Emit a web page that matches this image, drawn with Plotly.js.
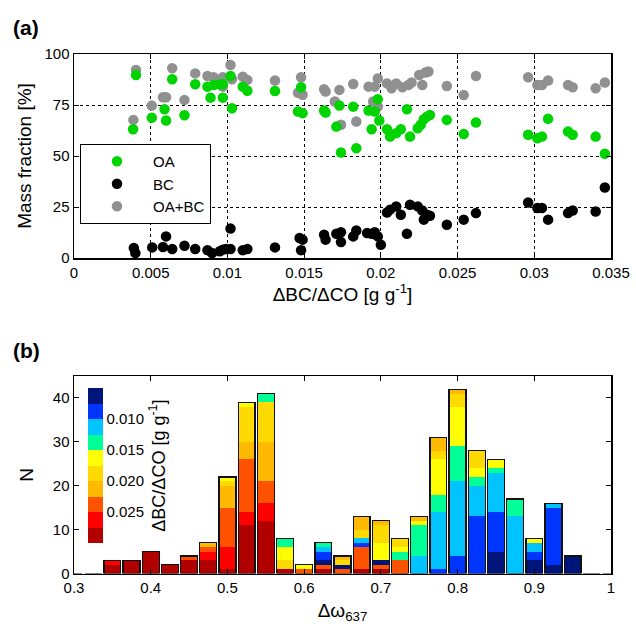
<!DOCTYPE html>
<html>
<head>
<meta charset="utf-8">
<script src="https://cdn.plot.ly/plotly-3.0.1.min.js"></script>
<style>html,body{margin:0;padding:0;background:#fff;}#chart{width:636px;height:624px;}</style>
</head>
<body>
<div id="chart"></div>
<script>
// ---------- Panel (a): mass fractions vs dBC/dCO ----------
const oaX = [0.00404,0.00385,0.00507,0.0059,0.0060,0.0064,0.0072,0.0079,0.0087,0.0089,0.0091,0.0095,0.0097,0.0097,0.0102,0.0103,0.0110,0.0113,0.0131,0.0148,0.0146,0.0149,0.0163,0.0164,0.0171,0.0173,0.0174,0.0182,0.0184,0.0192,0.0194,0.0198,0.0196,0.0199,0.0204,0.0206,0.0210,0.0213,0.0219,0.0217,0.0224,0.0226,0.0228,0.0230,0.0232,0.0243,0.0254,0.0262,0.0296,0.0302,0.0305,0.0309,0.0322,0.0325,0.0340,0.0346];
const oaY = [89.7,63.1,68.8,72.9,67.4,87.6,70.0,85.2,84.0,78.6,84.8,85.2,85.2,78.6,89.2,73.4,84.0,82.0,81.9,83.7,71.8,71.0,72.3,71.3,64.4,74.7,51.7,74.2,53.8,72.3,63.1,77.8,71.8,67.4,63.1,59.5,61.2,63.1,59.5,72.9,63.6,65.3,68.0,69.3,70.1,67.7,60.8,66.4,60.4,58.7,59.5,68.2,62.0,60.4,59.5,51.1];

const bcX = [0.0039,0.0040,0.0051,0.0058,0.0060,0.0064,0.0072,0.0079,0.0087,0.0090,0.0095,0.0097,0.0099,0.0102,0.0102,0.0110,0.0113,0.0131,0.0147,0.0149,0.0148,0.0163,0.0164,0.0171,0.0174,0.0174,0.0182,0.0184,0.0191,0.0194,0.0196,0.0198,0.0200,0.0204,0.0206,0.0210,0.0213,0.0217,0.0219,0.0224,0.0227,0.0228,0.0230,0.0232,0.0243,0.0254,0.0262,0.0296,0.0302,0.0305,0.0309,0.0322,0.0325,0.0340,0.0346];
const bcY = [4.9,2.4,5.2,5.4,10.6,4.4,6.0,4.4,3.8,2.4,3.3,4.1,4.4,14.4,4.4,3.8,4.4,5.2,9.8,9.0,3.8,11.4,9.0,11.9,12.6,7.8,10.6,13.5,12.2,11.9,12.6,10.6,6.5,22.3,23.7,25.3,21.2,11.9,26.1,25.3,23.3,18.8,21.2,20.7,16.3,18.8,22.0,27.2,24.5,24.5,18.8,22.0,23.3,22.8,34.6];

const sumX = [0.00404,0.00387,0.00507,0.0058,0.0060,0.0064,0.0072,0.0079,0.0087,0.0091,0.0097,0.0097,0.0102,0.0103,0.0110,0.0113,0.0131,0.0148,0.0146,0.0149,0.0163,0.0164,0.0173,0.0182,0.0170,0.0174,0.0184,0.0192,0.0196,0.0198,0.0195,0.0198,0.0204,0.0207,0.0210,0.0214,0.0218,0.0220,0.0225,0.0227,0.0229,0.0231,0.0243,0.0254,0.0262,0.0296,0.0302,0.0305,0.0309,0.0322,0.0325,0.0340,0.0346];
const sumY = [92.2,67.7,74.7,78.8,78.8,93.0,77.5,90.5,89.2,88.6,88.6,84.0,94.6,87.6,88.9,87.3,87.0,88.6,81.0,80.0,82.7,81.6,82.4,85.3,76.7,65.3,66.9,84.0,84.0,88.0,76.7,74.2,85.6,83.2,85.6,83.7,84.8,86.0,89.7,84.8,90.9,91.4,84.3,79.9,89.2,88.6,84.8,84.8,87.0,84.8,83.7,83.2,86.0];

const xTicksA = [0,0.005,0.01,0.015,0.02,0.025,0.03,0.035];
const yTicksA = [0,25,50,75,100];

// ---------- Panel (b): stacked histogram of d(omega)637 ----------
const binCenters = [0.300,0.325,0.350,0.375,0.400,0.425,0.450,0.475,0.500,0.525,0.550,0.575,0.600,0.625,0.650,0.675,0.700,0.725,0.750,0.775,0.800,0.825,0.850,0.875,0.900,0.925,0.950,0.975,1.000];
// colour band index of each stacked segment, bottom to top (0 = 0.005-0.0075 ... 9 = 0.0275-0.030)
const segBands = [[],[],[9,8],[9],[9],[9],[9,7],[9,8,7,6],[9,8,7,6,5,4],[9,8,7,6,5,4],[9,8,7,6,5,3],[9,5,4,3],[7,4],[9,7,0,1,2,3],[7,0,5,6],[9,7,1,2,5,6],[9,7,0,4,5,6],[7,3,4,5],[2,3,4,6],[1,2,3,4,5,6],[1,2,3,4,5,6],[1,2,3,4,5],[0,1,2,3,4],[2,3],[0,1,2,4],[0,1,2],[0],[],[]];
const segCounts = [[],[],[2,1],[3],[5],[2],[3,1],[3,2,1,1],[1,5,9,5,1,1],[11,3,12,4,8,1],[12,4,5,9,9,2],[1,2,3,2],[1,1],[1,1,1,2,1,1],[1,1,1,1],[1,5,1,1,2,3],[1,1,1,4,4,1],[3,2,1,2],[4,7,1,1],[1,13,4,8,2,3],[4,17,8,9,3,1],[13,7,2,2,4],[5,9,9,1,2],[13,4],[3,2,2,1],[2,13,1],[4],[],[]];
const bandLower = [0.005,0.0075,0.010,0.0125,0.015,0.0175,0.020,0.0225,0.025,0.0275];
const bandWidth = 0.0025;
const bandColors = ['#00157a','#0035ff','#00c3ff','#00ff96','#ffff00','#ffda00','#ffb900','#ff5200','#ff0000','#b00000'];
const cbTickVals = [0.010,0.015,0.020,0.025];
const cbTickText = ['0.010','0.015','0.020','0.025'];
const xTicksB = [0.3,0.4,0.5,0.6,0.7,0.8,0.9,1.0];
const yTicksB = [0,10,20,30,40];

const FONT = 'Liberation Sans, Arial, Helvetica, sans-serif';
const W = 636, H = 624;
const px = v => v / W;
const py = v => 1 - v / H;

// colour scale on -dBC/dCO so that small values sit at the top of the bar
const cmin = -(bandLower[9] + bandWidth), cmax = -bandLower[0];
const colorscale = [];
for (let j = 0; j < 10; j++) {
  const c = bandColors[9 - j];
  colorscale.push([j / 10, c]);
  colorscale.push([(j + 1) / 10, c]);
}
const bandValue = i => -(bandLower[i] + bandWidth / 2);

const traces = [];
const mk = (name, x, y, color, rank) => ({
  type: 'scatter', mode: 'markers', name, x, y, xaxis: 'x', yaxis: 'y',
  marker: {color, size: 10.5, line: {width: 0}}, legendrank: rank, hoverinfo: 'skip'
});
traces.push(mk('OA+BC', sumX, sumY, '#909090', 3));
traces.push(mk('OA', oaX, oaY, '#00d400', 1));
traces.push(mk('BC', bcX, bcY, '#000000', 2));

const nLayers = Math.max(...segBands.map(s => s.length));
for (let L = 0; L < nLayers; L++) {
  const y = segCounts.map(s => (s[L] !== undefined ? s[L] : null));
  const col = segBands.map(s => (s[L] !== undefined ? bandValue(s[L]) : -0.02));
  const t = {
    type: 'bar', x: binCenters, y, xaxis: 'x2', yaxis: 'y2', showlegend: false, hoverinfo: 'skip',
    marker: {color: col, colorscale, cmin, cmax, line: {width: 0}, showscale: L === 0}
  };
  if (L === 0) {
    t.marker.colorbar = {
      x: px(88), xanchor: 'left', y: py(465.5), yanchor: 'middle',
      len: 155, lenmode: 'pixels', thickness: 15, thicknessmode: 'pixels',
      outlinewidth: 0, ticks: '', xpad: 0, ypad: 0, bgcolor: 'rgba(0,0,0,0)',
      tickvals: cbTickVals.map(v => -v), ticktext: cbTickText,
      tickfont: {family: FONT, size: 15, color: '#000'},
      title: {text: 'ΔBC/ΔCO [g g<sup>-1</sup>]', side: 'right', font: {family: FONT, size: 18, color: '#000'}}
    };
  }
  traces.push(t);
}
// outline of each whole bar
const totals = segCounts.map(s => s.reduce((a, b) => a + b, 0));
traces.push({
  type: 'bar', x: binCenters, y: totals, xaxis: 'x3', yaxis: 'y3', showlegend: false, hoverinfo: 'skip',
  marker: {color: 'rgba(0,0,0,0)', line: {color: '#111', width: 1.3}}
});

const axBase = {
  showline: true, linecolor: '#000', linewidth: 1.5, mirror: 'ticks',
  ticks: 'inside', ticklen: 5, tickcolor: '#000', zeroline: false,
  tickfont: {family: FONT, size: 15, color: '#000'}, automargin: false, fixedrange: true
};
const xDom = [px(74), px(611)];
const layout = {
  width: W, height: H, margin: {l: 0, r: 0, t: 0, b: 0},
  paper_bgcolor: '#fff', plot_bgcolor: '#fff',
  font: {family: FONT, color: '#000'},
  barmode: 'stack', bargap: 0.12,
  showlegend: true,
  legend: {
    x: px(80), y: py(144), xanchor: 'left', yanchor: 'top', traceorder: 'normal',
    bordercolor: '#000', borderwidth: 1, bgcolor: '#fff',
    font: {family: FONT, size: 15, color: '#000'}, itemwidth: 62, tracegroupgap: 0
  },
  xaxis: Object.assign({}, axBase, {
    domain: xDom, anchor: 'y', range: [0, 0.035], tickvals: xTicksA,
    showgrid: true, gridcolor: '#000', gridwidth: 1, griddash: 'dot',
    title: {text: 'ΔBC/ΔCO [g g<sup>-1</sup>]', font: {family: FONT, size: 19}, standoff: 8}
  }),
  yaxis: Object.assign({}, axBase, {
    domain: [py(258), py(54)], anchor: 'x', range: [0, 100], tickvals: yTicksA,
    showgrid: true, gridcolor: '#000', gridwidth: 1, griddash: 'dot',
    title: {text: 'Mass fraction [%]', font: {family: FONT, size: 19}, standoff: 8}
  }),
  xaxis2: Object.assign({}, axBase, {
    domain: xDom, anchor: 'y2', range: [0.3, 1.0], tickvals: xTicksB, showgrid: false,
    title: {text: 'Δω<sub>637</sub>', font: {family: FONT, size: 19}, standoff: 18}
  }),
  yaxis2: Object.assign({}, axBase, {
    domain: [py(573.5), py(376)], anchor: 'x2', range: [0, 45], tickvals: yTicksB, showgrid: false,
    title: {text: 'N', font: {family: FONT, size: 19}, standoff: 14}
  }),
  xaxis3: {overlaying: 'x2', anchor: 'y3', range: [0.3, 1.0], visible: false, fixedrange: true},
  yaxis3: {overlaying: 'y2', anchor: 'x3', range: [0, 45], visible: false, fixedrange: true},
  annotations: [
    {text: '<b>(a)</b>', xref: 'paper', yref: 'paper', x: px(11), y: py(28), xanchor: 'left', yanchor: 'middle', showarrow: false, font: {family: FONT, size: 21}},
    {text: '<b>(b)</b>', xref: 'paper', yref: 'paper', x: px(11), y: py(350), xanchor: 'left', yanchor: 'middle', showarrow: false, font: {family: FONT, size: 21}}
  ]
};

Plotly.newPlot('chart', traces, layout, {staticPlot: true, displayModeBar: false});
</script>
</body>
</html>
